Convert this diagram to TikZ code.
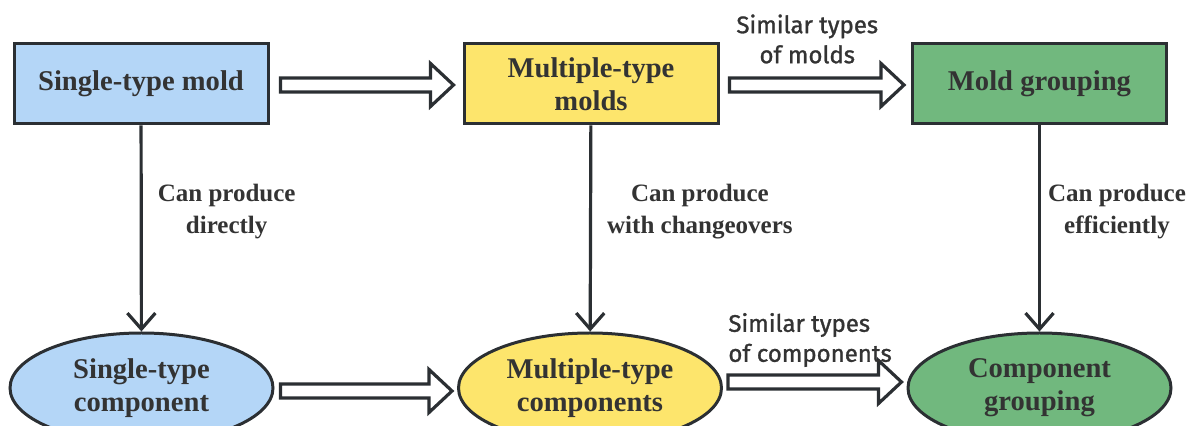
\documentclass[tikz,border=0pt]{standalone}
\usepackage{fontspec}
\setmainfont{Liberation Serif}
\newfontfamily\comicfont[FakeBold=1.2]{Fira Sans}
\usetikzlibrary{shapes.geometric,arrows.meta,calc,positioning}

\definecolor{moldblue}{HTML}{B4D6F7}
\definecolor{moldyellow}{HTML}{FDE56C}
\definecolor{moldgreen}{HTML}{71B87E}
\definecolor{edgegray}{HTML}{2B2F33}
\definecolor{textgray}{HTML}{333333}

\tikzset{
    moldbox/.style={draw=edgegray, line width=1.5pt, minimum width=127pt, minimum height=40pt,
        align=center, text=textgray, font=\fontsize{14.3}{16.5}\selectfont\bfseries},
    compell/.style={ellipse, draw=edgegray, line width=1.5pt, minimum width=131.5pt, minimum height=55pt,
        inner sep=0pt, align=center, text=textgray, font=\fontsize{14.3}{16.5}\selectfont\bfseries},
    produce/.style={draw=edgegray, line width=1.6pt, -{Straight Barb[length=8pt,width=14pt]}},
    fatarrow/.style={draw=edgegray, line width=1.6pt, fill=white, line join=miter,
        to path={let \p1=(\tikztostart), \p2=(\tikztotarget) in
            (\x1,\y1+3.5pt) -- (\x2-11.5pt,\y1+3.5pt) -- (\x2-11.5pt,\y1+10.75pt) -- (\x2,\y1)
            -- (\x2-11.5pt,\y1-10.75pt) -- (\x2-11.5pt,\y1-3.5pt) -- (\x1,\y1-3.5pt) -- cycle}},
    lbl/.style={align=center, inner sep=0pt, text=textgray, font=\fontsize{12.5}{16}\selectfont\bfseries},
    simlbl/.style={inner sep=0pt, text=textgray, font=\comicfont\fontsize{12}{15}\selectfont}
}

\begin{document}
\begin{tikzpicture}[x=0.5pt, y=-0.5pt]
    \useasboundingbox (0,0) rectangle (1188,426);
    \clip (0,0) rectangle (1188,426);

    % molds
    \node[moldbox, fill=moldblue] (smold) at (141,84) {Single-type mold};
    \node[moldbox, fill=moldyellow] (mmold) at (591,84) {Multiple-type\\molds};
    \node[moldbox, fill=moldgreen] (gmold) at (1039.5,84) {Mold grouping};

    % components
    \node[compell, fill=moldblue] (scomp) at (141.5,388) {Single-type\\component};
    \node[compell, fill=moldyellow] (mcomp) at (590,388) {Multiple-type\\components};
    \node[compell, fill=moldgreen] (gcomp) at (1039.5,388) {Component\\grouping};

    % can produce
    \draw[produce] (smold) -- node[lbl, anchor=west, xshift=7.5pt, pos=0.42] {Can produce\\directly} (scomp);
    \draw[produce] (mmold) -- node[lbl, anchor=west, xshift=7.5pt, pos=0.42] {Can produce\\with changeovers} (mcomp);
    \draw[produce] (gmold) -- node[lbl, anchor=west, xshift=3.5pt, pos=0.42] {Can produce\\efficiently} (gcomp);

    % hollow arrows
    \draw[fatarrow] ($(smold.east)+(11,1)$) to ($(mmold.west)+(-9,1)$);
    \draw[fatarrow] ($(mmold.east)+(10,1)$) to ($(gmold.west)+(-7,1)$);
    \draw[fatarrow] ($(scomp.east)+(6,3)$) to ($(mcomp.west)+(-5,3)$);
    \draw[fatarrow] ($(mcomp.east)+(5,-6)$) to ($(gcomp.west)+(-5,-6)$);

    \node[simlbl, align=center] (simmolds) at ($(mmold.east)!0.5!(gmold.west)+(-8,-45)$) {Similar types\\of molds};
    \node[simlbl, align=left, anchor=west] (simcomps) at ($(mcomp.east)+(5,-48)$) {Similar types\\of components};
\end{tikzpicture}
\end{document}
